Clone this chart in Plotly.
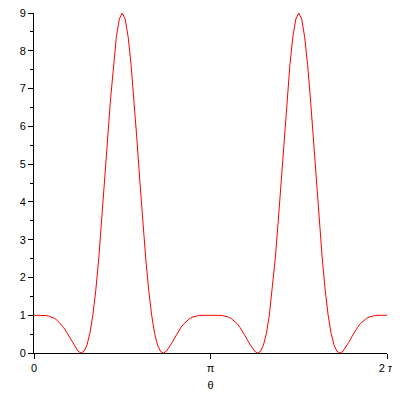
import numpy as np
import plotly.graph_objects as go

# sample angles in degrees, 3 degree steps over one full turn
theta_deg = list(range(0, 361, 3))

# curve values (one value per sample angle)
r_vals = [
    1.000, 1.000, 0.999, 0.997, 0.991, 0.977, 0.953, 0.915, 0.859, 0.781,
    0.681, 0.560, 0.423, 0.280, 0.147, 0.045, 0.000, 0.044, 0.207, 0.519,
    1.000, 1.659, 2.489, 3.463, 4.534, 5.638, 6.699, 7.636, 8.370, 8.839,
    9.000,
    8.839, 8.370, 7.636, 6.699, 5.638, 4.534, 3.463, 2.489, 1.659, 1.000,
    0.519, 0.207, 0.044, 0.000, 0.045, 0.147, 0.280, 0.423, 0.560, 0.681,
    0.781, 0.859, 0.915, 0.953, 0.977, 0.991, 0.997, 0.999, 1.000, 1.000,
    1.000, 0.999, 0.997, 0.991, 0.977, 0.953, 0.915, 0.859, 0.781,
    0.681, 0.560, 0.423, 0.280, 0.147, 0.045, 0.000, 0.044, 0.207, 0.519,
    1.000, 1.659, 2.489, 3.463, 4.534, 5.638, 6.699, 7.636, 8.370, 8.839,
    9.000,
    8.839, 8.370, 7.636, 6.699, 5.638, 4.534, 3.463, 2.489, 1.659, 1.000,
    0.519, 0.207, 0.044, 0.000, 0.045, 0.147, 0.280, 0.423, 0.560, 0.681,
    0.781, 0.859, 0.915, 0.953, 0.977, 0.991, 0.997, 0.999, 1.000, 1.000,
]

x_tickvals = [0, np.pi, 2 * np.pi]
x_ticktext = ["0", "π", "2 π"]
y_tickvals = list(range(0, 10))

theta = np.radians(theta_deg)

fig = go.Figure()
fig.add_trace(go.Scatter(
    x=theta, y=r_vals, mode="lines",
    line=dict(color="#ff0000", width=1),
    showlegend=False, hoverinfo="skip"
))

font = dict(family="Liberation Sans", size=11, color="black")

# page body has an 8px margin, so the figure is 392 px and offset by 8
fig.update_layout(
    width=392, height=392,
    paper_bgcolor="white", plot_bgcolor="white",
    margin=dict(l=26, r=13, t=5, b=47, autoexpand=False),
    font=font,
    xaxis=dict(
        range=[0, 2 * np.pi], tickvals=x_tickvals, ticktext=x_ticktext,
        showgrid=False, zeroline=False, showline=True, automargin=False,
        linecolor="black", linewidth=1, ticklabeloverflow="allow",
        ticks="outside", ticklen=5, tickcolor="black", tickwidth=1,
        title=dict(text="θ", standoff=8, font=font),
    ),
    yaxis=dict(
        range=[0, 9], tickvals=y_tickvals, automargin=False,
        showgrid=False, zeroline=False, showline=True,
        linecolor="black", linewidth=1, ticklabeloverflow="allow",
        ticks="outside", ticklen=5, tickcolor="black", tickwidth=1,
        minor=dict(dtick=0.5, ticks="outside", ticklen=3,
                   tickcolor="black", tickwidth=1, showgrid=False),
    ),
)

fig.write_html("out.html")
